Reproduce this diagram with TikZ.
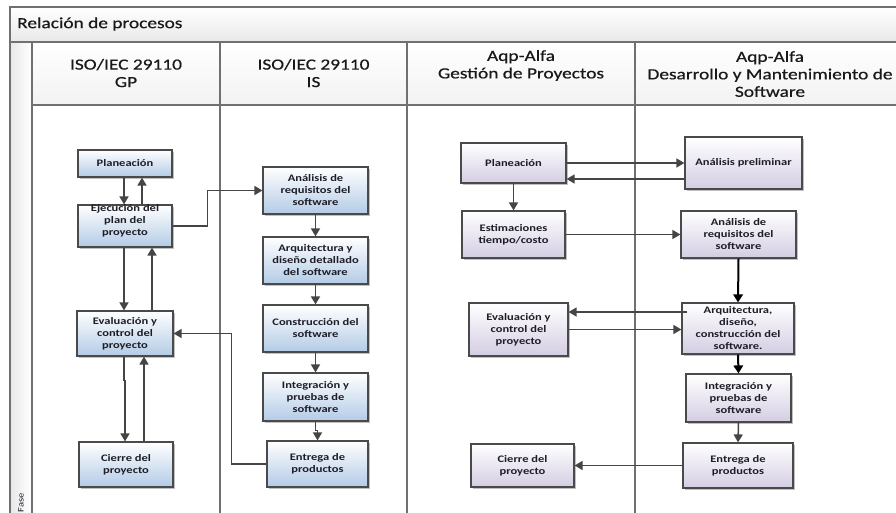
\documentclass[tikz,border=0pt]{standalone}
\usepackage{fontspec}
\setmainfont{Carlito}[FakeStretch=1.25]
\newfontfamily\hdrfont{Carlito}[FakeStretch=1.25, FakeBold=0.6]
\usetikzlibrary{arrows.meta,shadows,calc}
\definecolor{framec}{HTML}{707070}
\definecolor{connc}{HTML}{454545}
\definecolor{bluebot}{HTML}{B3CBE6}
\definecolor{purpbot}{HTML}{D4CDE3}
\definecolor{boxline}{HTML}{4A4A4A}
\definecolor{txtc}{HTML}{1E1E28}
\begin{document}
\begin{tikzpicture}[x=1pt,y=-1pt,
  framel/.style={draw=framec, line width=1.3pt},
  box/.style={draw=boxline, line width=1.2pt, align=center, inner sep=1pt,
    font=\fontsize{10}{12}\selectfont\bfseries, text=txtc,
    drop shadow={shadow xshift=1.8pt, shadow yshift=-1.8pt, opacity=0.35, fill=black!70}},
  bluebox/.style={box, top color=white, bottom color=bluebot},
  purpbox/.style={box, top color=white, bottom color=purpbot},
  boxtext/.style={align=center, inner sep=0pt, font=\fontsize{10}{12}\selectfont\bfseries, text=txtc},
  hdr/.style={align=center, inner sep=0pt, font=\hdrfont\fontsize{15.5}{17.5}\selectfont, text=black!90},
  conn/.style={draw=connc, line width=1.5pt, -{Triangle[length=8pt,width=9pt]}},
  bconn/.style={draw=black, line width=2pt, -{Triangle[length=8pt,width=9.5pt]}}
]
\useasboundingbox (0,0) rectangle (896,512);
\clip (0,0) rectangle (896,512);
\fill[white] (0,0) rectangle (896,512);

% ---- frame ----
\path[top color=white, bottom color=black!9] (10,7) rectangle (910,42);
\path[top color=white, bottom color=black!5] (32,42) rectangle (910,105);
\path[left color=black!9, right color=white] (10,42) rectangle (32,520);
\draw[framel] (10,7) rectangle (910,520);
\draw[framel] (10,42) -- (910,42);
\draw[framel] (32,42) -- (32,520);
\draw[framel] (32,105) -- (910,105);
\draw[framel] (220,42) -- (220,520);
\draw[framel] (407,42) -- (407,520);
\draw[framel] (635,42) -- (635,520);

\node[anchor=west, inner sep=0pt, font=\hdrfont\fontsize{15.5}{18}\selectfont, text=black!90] (title) at (17,24) {Relación de procesos};
\node[rotate=90, inner sep=0pt, font=\fontsize{8.5}{10}\selectfont, text=txtc] (fase) at (21,503) {Fase};

\node[hdr] (h1) at (126,73) {ISO/IEC 29110\\GP};
\node[hdr] (h2) at (313.5,73) {ISO/IEC 29110\\IS};
\node[hdr] (h3) at (521,65.5) {Aqp-Alfa\\Gestión de Proyectos};
\node[hdr] (h4) at (770,74) {Aqp-Alfa\\Desarrollo y Mantenimiento de\\Software};

% ---- ISO GP column ----
\node[bluebox, minimum width=94pt, minimum height=27pt] (lplan) at (125,163.5) {Planeación};
\node[bluebox, minimum width=94pt, minimum height=42pt] (lejec) at (125,226) {};
\node[boxtext] (lejectxt) at (125,221) {Ejecución del\\plan del\\proyecto};
\node[bluebox, minimum width=96pt, minimum height=45pt] (leval) at (125,333.5) {Evaluación y\\control del\\proyecto};
\node[bluebox, minimum width=94pt, minimum height=45pt] (lcierre) at (126,464.5) {Cierre del\\proyecto};

% ---- ISO IS column ----
\node[bluebox, minimum width=105pt, minimum height=47pt] (ianal) at (315.5,190.5) {Análisis de\\requisitos del\\software};
\node[bluebox, minimum width=105pt, minimum height=47pt] (iarq) at (315.5,260.5) {Arquitectura y\\diseño detallado\\del software};
\node[bluebox, minimum width=105pt, minimum height=47pt] (icons) at (315.5,328.5) {Construcción del\\software};
\node[bluebox, minimum width=105pt, minimum height=48pt] (iint) at (315.5,397) {Integración y\\pruebas de\\software};
\node[bluebox, minimum width=101pt, minimum height=46pt] (ientr) at (317.5,464) {Entrega de\\productos};

% ---- Aqp GP column ----
\node[purpbox, minimum width=105pt, minimum height=40pt] (gplan) at (513.5,163) {Planeación};
\node[purpbox, minimum width=103pt, minimum height=47pt] (gest) at (513.5,234.5) {Estimaciones\\tiempo/costo};
\node[purpbox, minimum width=99pt, minimum height=53pt] (geval) at (518.5,329.5) {Evaluación y\\control del\\proyecto};
\node[purpbox, minimum width=103pt, minimum height=43pt] (gcierre) at (522.5,465.5) {Cierre del\\proyecto};

% ---- Aqp DM column ----
\node[purpbox, minimum width=117pt, minimum height=52pt] (dprel) at (743.5,163) {Análisis preliminar};
\node[purpbox, minimum width=115pt, minimum height=47pt] (danal) at (738.5,234.5) {Análisis de\\requisitos del\\software};
\node[purpbox, minimum width=112pt, minimum height=51pt] (darq) at (738,328.5) {Arquitectura,\\diseño,\\construcción del\\software.};
\node[purpbox, minimum width=105pt, minimum height=48pt] (dint) at (738.5,398) {Integración y\\pruebas de\\software};
\node[purpbox, minimum width=110pt, minimum height=45pt] (dentr) at (738,465.5) {Entrega de\\productos};

% ---- connectors left ----
\draw[conn] ([xshift=-1pt]lplan.south) -- ([xshift=-1pt]lejec.north);
\draw[conn] ([xshift=17pt]lejec.north) -- ([xshift=17pt]lplan.south);
\draw[conn] ([xshift=-1pt]lejec.south) -- ([xshift=-1pt]leval.north);
\draw[conn] ([xshift=27pt]leval.north) -- ([xshift=27pt]lejec.south);
\draw[conn] ([xshift=-1pt]leval.south) -- ++(0,24) -| ([xshift=-1pt]lcierre.north);
\draw[conn] ([xshift=18pt]lcierre.north) -- ([xshift=19pt]leval.south);
\draw[conn] (lejec.east) -- ++(35,0) |- (ianal.west);
\draw[conn] (ientr.west) -| ($(leval.east)+(58,0)$) -- (leval.east);

% ---- connectors IS ----
\draw[conn] (ianal.south) -- (iarq.north);
\draw[conn] (iarq.south) -- (icons.north);
\draw[conn] (icons.south) -- (iint.north);
\draw[conn] (iint.south) -- ++(0,9) -| (ientr.north);

% ---- connectors right ----
\draw[conn] (gplan.east) -- (dprel.west);
\draw[conn] ($(dprel.west)+(0,16)$) -- ($(gplan.east)+(0,16)$);
\draw[conn] (gplan.south) -- (gest.north);
\draw[conn] (gest.east) -- (danal.west);
\draw[bconn] (danal.south) -- (darq.north);
\draw[conn] ($(darq.west)+(6,-16.5)$) -- ($(geval.east)+(0,-17.5)$);
\draw[conn] (geval.east) -- (geval.east -| darq.west);
\draw[bconn] (darq.south) -- (dint.north);
\draw[conn] (dint.south) -- (dentr.north);
\draw[conn] (dentr.west) -- (dentr.west -| gcierre.east);
\end{tikzpicture}
\end{document}
